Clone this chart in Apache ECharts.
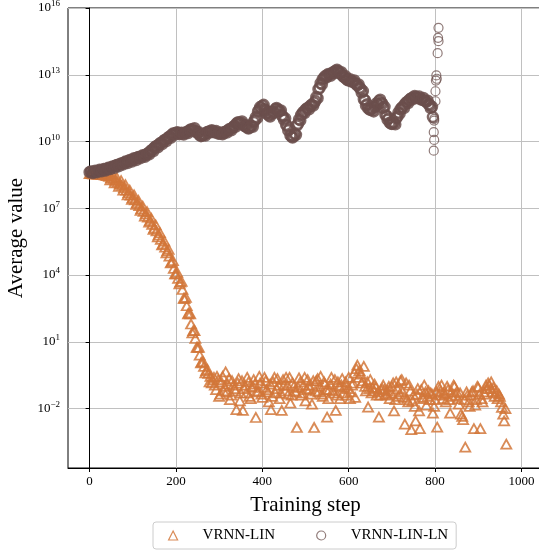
<!DOCTYPE html>
<html>
<head>
<meta charset="utf-8">
<script src="https://cdn.jsdelivr.net/npm/echarts@6/dist/echarts.min.js"></script>
<style>
html, body { margin: 0; padding: 0; background: #fff; }
#chart { width: 539px; height: 550px; }
</style>
</head>
<body>
<div id="chart"></div>
<script>
// values, stored as log10 exponents (y axis is log)
// VRNN-LIN, logged points (two interleaved runs of readings)
const linSteps = [
  0, 5, 10, 15, 20, 25, 30, 35, 40, 45, 50, 55, 60, 65, 70, 75, 80, 85, 90, 95,
  100, 105, 110, 115, 120, 125, 130, 135, 140, 145, 150, 155, 160, 165, 170, 175, 180, 185, 190, 195,
  200, 205, 210, 215, 220, 225, 230, 235, 240, 245, 250, 255, 260, 265, 270, 275, 280,
  285, 290, 295, 300, 305, 310, 315, 320, 325, 330, 335, 340, 345, 350, 355, 360, 365, 370, 375, 380,
  385, 390, 395, 400, 405, 410, 415, 420, 425, 430, 435, 440, 445, 450, 455, 460, 465, 470, 475, 480,
  485, 490, 495, 500, 505, 510, 515, 520, 525, 530, 535, 540, 545, 550, 555, 560, 565, 570, 575, 580,
  585, 590, 595, 600, 605, 610, 615, 620, 625, 630, 635, 640, 645, 650, 655, 660, 665, 670, 675, 680,
  685, 690, 695, 700, 705, 710, 715, 720, 725, 730, 735, 740, 745, 750, 755, 760, 765, 770, 775, 780,
  785, 790, 795, 800, 805, 810, 815, 820, 825, 830, 835, 840, 845, 850, 855, 860, 865, 870, 875, 880,
  885, 890, 895, 900, 905, 910, 915, 920, 925, 930, 935, 940, 945, 950, 955, 960, 965
];
const linExp = [
  8.56, 8.56, 8.55, 8.55, 8.54, 8.53, 8.52, 8.50, 8.47, 8.43, 8.38, 8.32, 8.25, 8.18, 8.10, 8.03, 7.93, 7.82, 7.70, 7.59,
  7.48, 7.38, 7.25, 7.12, 6.98, 6.86, 6.75, 6.60, 6.45, 6.28, 6.12, 5.98, 5.80, 5.60, 5.40, 5.25, 5.08, 4.85, 4.58, 4.30,
  4.05, 3.85, 3.68, 3.35, 2.95, 2.62, 2.30, 1.80, 1.50, 1.15, 0.75, 0.40, 0.10, -0.10, -0.30, -0.42, -0.55,
  -0.70, -0.95, -0.55, -1.45, -0.80, -1.20, -0.35, -0.90, -1.60, -0.75, -1.10, -2.05, -0.65, -1.30, -2.08, -0.95, -0.60, -1.45, -1.05, -0.70,
  -2.40, -1.25, -0.85, -1.50, -0.60, -1.15, -1.70, -2.05, -0.80, -1.30, -0.65, -1.55, -2.08, -0.95, -0.60, -1.35, -1.75, -0.85, -1.20, -2.85,
  -0.62, -1.40, -0.95, -1.65, -0.70, -1.10, -1.80, -2.85, -0.75, -1.25, -0.55, -1.45, -0.90, -2.38, -1.15, -0.60, -1.30, -2.08, -0.80, -1.55,
  -0.65, -1.05, -1.40, -0.60, -1.25, -0.85, -1.50, -0.05, -0.30, -0.85, -0.10, -1.20, -1.93, -0.70, -1.05, -0.90, -1.40, -2.38, -1.15, -0.95,
  -1.35, -1.20, -1.55, -1.00, -2.10, -0.80, -1.45, -0.75, -1.25, -2.70, -1.60, -0.95, -2.95, -1.40, -2.55, -1.10, -2.90, -1.50, -0.95, -1.85,
  -1.20, -1.30, -2.20, -1.60, -2.83, -1.40, -0.95, -1.30, -1.70, -1.15, -2.20, -1.45, -1.00, -1.25, -1.80, -2.25, -2.50, -3.73, -1.40, -1.90,
  -1.25, -2.90, -1.60, -1.05, -2.90, -1.70, -1.35, -1.10, -0.95, -0.80, -1.05, -1.30, -1.55, -1.45, -1.95, -2.55, -3.60
];
const linStepsB = [
  3, 8, 13, 18, 23, 28, 33, 38, 43, 48, 53, 58, 63, 68, 73, 78, 83, 88, 93, 98,
  103, 108, 113, 118, 123, 128, 133, 138, 143, 148, 153, 158, 163, 168, 173, 178, 183, 188, 193, 198,
  203, 208, 213, 218, 223, 228, 233, 238, 243, 248, 253, 258, 263, 268, 273, 278,
  283, 288, 293, 298, 303, 308, 313, 318, 323, 328, 333, 338, 343, 348, 353, 358, 363, 368, 373, 378,
  383, 388, 393, 398, 403, 408, 413, 418, 423, 428, 433, 438, 443, 448, 453, 458, 463, 468, 473, 478,
  483, 488, 493, 498, 503, 508, 513, 518, 523, 528, 533, 538, 543, 548, 553, 558, 563, 568, 573, 578,
  583, 588, 593, 598, 603, 608, 613, 618, 623, 628, 633, 638, 643, 648, 653, 658, 663, 668, 673, 678,
  683, 688, 693, 698, 703, 708, 713, 718, 723, 728, 733, 738, 743, 748, 753, 758, 763, 768, 773, 778,
  783, 788, 793, 798, 803, 808, 813, 818, 823, 828, 833, 838, 843, 848, 853, 858, 863, 868, 873, 878,
  883, 888, 893, 898, 903, 908, 913, 918, 923, 928, 933, 938, 943, 948, 953, 958, 963
];
const linExpB = [
  8.57, 8.54, 8.56, 8.53, 8.55, 8.51, 8.53, 8.49, 8.62, 8.28, 8.52, 8.14, 8.38, 7.98, 8.24, 7.82, 8.06, 7.60, 7.82, 7.40,
  7.60, 7.18, 7.35, 6.90, 7.10, 6.65, 6.85, 6.38, 6.55, 6.05, 6.25, 5.72, 5.90, 5.35, 5.52, 5.00, 5.15, 4.55, 4.65, 4.05,
  4.12, 3.60, 3.72, 2.95, 3.00, 2.25, 2.25, 1.40, 1.50, 0.75, 0.75, 0.05, 0.10, -0.40, -0.25, -0.80,
  -0.85, -0.60, -1.15, -0.70, -1.35, -0.55, -1.00, -1.25, -0.65, -1.40, -0.95, -1.20, -0.85, -1.65, -0.75, -1.10, -1.30, -0.80, -1.55, -1.00,
  -0.90, -1.20, -0.55, -1.35, -1.05, -0.75, -1.25, -0.90, -1.45, -0.60, -1.10, -0.95, -1.30, -0.70, -1.20, -0.95, -0.60, -1.40, -1.00, -1.25,
  -1.05, -0.80, -1.30, -0.60, -1.15, -0.95, -1.35, -0.75, -1.20, -0.65, -1.00, -1.35, -0.80, -1.15, -1.55, -0.90, -1.20, -0.70, -1.40, -1.00,
  -0.95, -1.30, -0.80, -1.10, -1.55, -0.95, -0.40, -0.20, -0.60, -0.45, -0.75, -1.00, -0.80, -1.10, -1.30, -1.20, -1.05, -1.25, -1.40, -1.10,
  -1.15, -1.40, -1.00, -1.30, -0.85, -1.60, -1.10, -1.35, -0.70, -1.50, -0.85, -1.70, -1.20, -1.65, -1.90, -1.35, -2.10, -1.15, -1.55, -1.25,
  -1.45, -1.60, -1.35, -1.90, -1.25, -1.00, -1.20, -1.55, -1.35, -1.00, -1.60, -1.25, -0.95, -1.40, -1.55, -1.30, -2.35, -1.60, -1.25, -1.70,
  -1.40, -1.20, -1.85, -1.00, -1.35, -1.55, -1.25, -0.95, -0.85, -1.10, -1.25, -1.45, -1.20, -1.35, -1.70, -2.25, -2.00
];

// VRNN-LIN-LN, the continuous band up to step 795
const lnSteps = [
  0, 5, 10, 15, 20, 25, 30, 35, 40, 45, 50, 55, 60, 65, 70, 75, 80, 85, 90, 95,
  100, 105, 110, 115, 120, 125, 130, 135, 140, 145, 150, 155, 160, 165, 170, 175, 180, 185, 190, 195,
  200, 205, 210, 215, 220, 225, 230, 235, 240, 245, 250, 255, 260, 265, 270, 275, 280, 285, 290, 295,
  300, 305, 310, 315, 320, 325, 330, 335, 340, 345, 350, 355, 360, 365, 370, 375, 380, 385, 390, 395,
  400, 405, 410, 415, 420, 425, 430, 435, 440, 445, 450, 455, 460, 465, 470, 475, 480, 485, 490, 495,
  500, 505, 510, 515, 520, 525, 530, 535, 540, 545, 550, 555, 560, 565, 570, 575, 580, 585, 590, 595,
  600, 605, 610, 615, 620, 625, 630, 635, 640, 645, 650, 655, 660, 665, 670, 675, 680, 685, 690, 695,
  700, 705, 710, 715, 720, 725, 730, 735, 740, 745, 750, 755, 760, 765, 770, 775, 780, 785, 790, 795
];
const lnExp = [
  8.62, 8.63, 8.64, 8.66, 8.68, 8.70, 8.72, 8.74, 8.77, 8.80, 8.84, 8.87, 8.91, 8.94, 8.98, 9.02, 9.05, 9.08, 9.12, 9.15,
  9.19, 9.23, 9.27, 9.30, 9.33, 9.36, 9.40, 9.46, 9.55, 9.63, 9.72, 9.79, 9.86, 9.93, 10.00, 10.07, 10.14, 10.22, 10.30, 10.35,
  10.38, 10.38, 10.36, 10.35, 10.37, 10.42, 10.48, 10.54, 10.55, 10.48, 10.38, 10.29, 10.27, 10.31, 10.38, 10.44, 10.46, 10.46, 10.43, 10.40,
  10.37, 10.36, 10.38, 10.44, 10.50, 10.55, 10.60, 10.70, 10.80, 10.86, 10.85, 10.77, 10.68, 10.62, 10.62, 10.70, 10.88, 11.10, 11.35, 11.55,
  11.60, 11.45, 11.25, 11.17, 11.22, 11.35, 11.46, 11.45, 11.35, 11.18, 10.98, 10.75, 10.50, 10.28, 10.18, 10.35, 10.72, 11.00, 11.20, 11.33,
  11.43, 11.50, 11.58, 11.66, 11.75, 12.00, 12.35, 12.62, 12.80, 12.93, 12.98, 13.00, 13.05, 13.12, 13.18, 13.17, 13.07, 12.97, 12.88, 12.80,
  12.75, 12.73, 12.70, 12.62, 12.52, 12.42, 12.20, 11.90, 11.62, 11.50, 11.42, 11.40, 11.55, 11.72, 11.82, 11.75, 11.50, 11.20, 10.98, 10.85,
  10.79, 10.82, 11.05, 11.30, 11.45, 11.55, 11.68, 11.78, 11.86, 11.94, 11.99, 12.00, 11.97, 11.93, 11.90, 11.85, 11.78, 11.68, 11.50, 11.10
];
const lnStepsB = [
  3, 8, 13, 18, 23, 28, 33, 38, 43, 48, 53, 58, 63, 68, 73, 78, 83, 88, 93, 98,
  103, 108, 113, 118, 123, 128, 133, 138, 143, 148, 153, 158, 163, 168, 173, 178, 183, 188, 193, 198,
  203, 208, 213, 218, 223, 228, 233, 238, 243, 248, 253, 258, 263, 268, 273, 278, 283, 288, 293, 298,
  303, 308, 313, 318, 323, 328, 333, 338, 343, 348, 353, 358, 363, 368, 373, 378, 383, 388, 393, 398,
  403, 408, 413, 418, 423, 428, 433, 438, 443, 448, 453, 458, 463, 468, 473, 478, 483, 488, 493, 498,
  503, 508, 513, 518, 523, 528, 533, 538, 543, 548, 553, 558, 563, 568, 573, 578, 583, 588, 593, 598,
  603, 608, 613, 618, 623, 628, 633, 638, 643, 648, 653, 658, 663, 668, 673, 678, 683, 688, 693, 698,
  703, 708, 713, 718, 723, 728, 733, 738, 743, 748, 753, 758, 763, 768, 773, 778, 783, 788, 793
];
const lnExpB = [
  8.66, 8.58, 8.69, 8.62, 8.73, 8.66, 8.77, 8.70, 8.82, 8.76, 8.88, 8.82, 8.95, 8.89, 9.02, 8.97, 9.10, 9.03, 9.17, 9.10,
  9.25, 9.17, 9.31, 9.25, 9.38, 9.31, 9.45, 9.42, 9.60, 9.57, 9.78, 9.74, 9.92, 9.88, 10.06, 10.02, 10.20, 10.17, 10.36, 10.31,
  10.42, 10.33, 10.40, 10.31, 10.42, 10.38, 10.53, 10.49, 10.60, 10.43, 10.42, 10.24, 10.31, 10.27, 10.43, 10.40, 10.51, 10.41, 10.47, 10.35,
  10.41, 10.32, 10.43, 10.40, 10.55, 10.50, 10.66, 10.66, 10.86, 10.81, 10.90, 10.72, 10.72, 10.58, 10.67, 10.66, 10.96, 11.05, 11.43, 11.50,
  11.65, 11.40, 11.30, 11.12, 11.28, 11.30, 11.51, 11.40, 11.40, 11.12, 11.04, 10.70, 10.56, 10.22, 10.24, 10.30, 10.80, 10.95, 11.26, 11.28,
  11.49, 11.45, 11.64, 11.61, 11.82, 11.95, 12.42, 12.57, 12.86, 12.87, 13.04, 12.95, 13.10, 13.07, 13.23, 13.12, 13.12, 12.92, 12.93, 12.75,
  12.80, 12.68, 12.75, 12.57, 12.57, 12.37, 12.27, 11.85, 11.68, 11.45, 11.48, 11.35, 11.60, 11.67, 11.88, 11.70, 11.56, 11.15, 11.04, 10.80,
  10.85, 10.77, 11.12, 11.25, 11.52, 11.50, 11.74, 11.73, 11.92, 11.89, 12.05, 11.95, 12.03, 11.88, 11.96, 11.80, 11.84, 11.63, 11.56
];
// VRNN-LIN-LN, the spread of points where the run blows up
const lnTailSteps = [797, 798, 797, 798, 798, 801, 801, 802, 804, 803, 806, 808, 807, 808];
const lnTailExp = [9.59, 10.07, 10.42, 10.94, 11.02, 11.81, 12.26, 12.74, 12.82, 12.97, 13.97, 14.51, 14.66, 15.11];

const xTicks = [0, 200, 400, 600, 800, 1000];
const yTicks = [1e-2, 1e1, 1e4, 1e7, 1e10, 1e13, 1e16];

const FONT = 'Liberation Serif';
const ORANGE = '#d2773a';
const BROWN = '#6b4f4c';
const toPoints = (steps, exps) => steps.map((s, i) => [s, Math.pow(10, exps[i])]);

const chart = echarts.init(document.getElementById('chart'));
chart.setOption({
  animation: false,
  textStyle: { fontFamily: FONT },
  grid: {
    left: 68, top: 8, right: -4, bottom: 82,
    outerBoundsMode: 'none',
    show: true, borderColor: '#000', borderWidth: 1, backgroundColor: 'transparent'
  },
  legend: {
    bottom: 1,
    left: 153,
    orient: 'horizontal',
    itemWidth: 9,
    itemHeight: 9,
    itemGap: 41,
    padding: [6, 8, 6, 15],
    borderColor: '#cccccc',
    borderWidth: 1,
    borderRadius: 3,
    textStyle: { fontFamily: FONT, fontSize: 15, color: '#000', padding: [0, 0, 0, 20] },
    data: [
      { name: 'VRNN-LIN', itemStyle: { color: 'rgba(0,0,0,0)', borderColor: ORANGE, borderWidth: 1.2, opacity: 0.85 } },
      { name: 'VRNN-LIN-LN', itemStyle: { color: 'rgba(0,0,0,0)', borderColor: BROWN, borderWidth: 1.2, opacity: 0.75 } }
    ]
  },
  xAxis: {
    type: 'value',
    min: -50,
    max: 1050,
    name: 'Training step',
    nameLocation: 'middle',
    nameGap: 27,
    nameTextStyle: { fontFamily: FONT, fontSize: 21, color: '#000' },
    axisLine: { lineStyle: { color: '#000', width: 1 } },
    axisTick: { show: true, length: 4, customValues: xTicks, lineStyle: { color: '#000' } },
    axisLabel: {
      customValues: xTicks, fontFamily: FONT, fontSize: 13, color: '#000', margin: 7,
      formatter: v => String(v)
    },
    splitLine: { show: true, lineStyle: { color: '#c0c0c0', width: 1 } }
  },
  yAxis: {
    type: 'log',
    logBase: 10,
    min: Math.pow(10, -4.67),
    max: 1e16,
    name: 'Average value',
    nameLocation: 'middle',
    nameGap: 40,
    nameTextStyle: { fontFamily: FONT, fontSize: 21, color: '#000' },
    axisLine: { show: true, lineStyle: { color: '#000', width: 1 } },
    axisTick: { show: true, length: 4, customValues: yTicks, lineStyle: { color: '#000' } },
    minorTick: { show: false },
    axisLabel: {
      customValues: yTicks,
      margin: 8,
      color: '#000',
      formatter: function (v) {
        const e = Math.round(Math.log10(v));
        return '{b|10}{s|' + (e < 0 ? '\u2212' + (-e) : e) + '}';
      },
      rich: {
        b: { fontFamily: FONT, fontSize: 13, color: '#000' },
        s: { fontFamily: FONT, fontSize: 9, color: '#000', padding: [0, 0, 8, 0] }
      }
    },
    splitLine: { show: true, lineStyle: { color: '#c0c0c0', width: 1 } }
  },
  series: [
    {
      name: 'VRNN-LIN',
      type: 'scatter',
      symbol: 'triangle',
      symbolSize: [10, 9],
      itemStyle: { color: 'rgba(0,0,0,0)', borderColor: ORANGE, borderWidth: 1.8, opacity: 0.85 },
      data: toPoints(linSteps, linExp).concat(toPoints(linStepsB, linExpB))
    },
    {
      name: 'VRNN-LIN-LN',
      type: 'scatter',
      symbol: 'circle',
      symbolSize: 10,
      itemStyle: { color: 'rgba(0,0,0,0)', borderColor: BROWN, borderWidth: 2.4, opacity: 0.85 },
      data: toPoints(lnSteps, lnExp).concat(toPoints(lnStepsB, lnExpB))
    },
    {
      name: 'VRNN-LIN-LN',
      type: 'scatter',
      symbol: 'circle',
      symbolSize: 9,
      itemStyle: { color: 'rgba(0,0,0,0)', borderColor: BROWN, borderWidth: 1.2, opacity: 0.75 },
      data: toPoints(lnTailSteps, lnTailExp)
    }
  ]
});
</script>
</body>
</html>
